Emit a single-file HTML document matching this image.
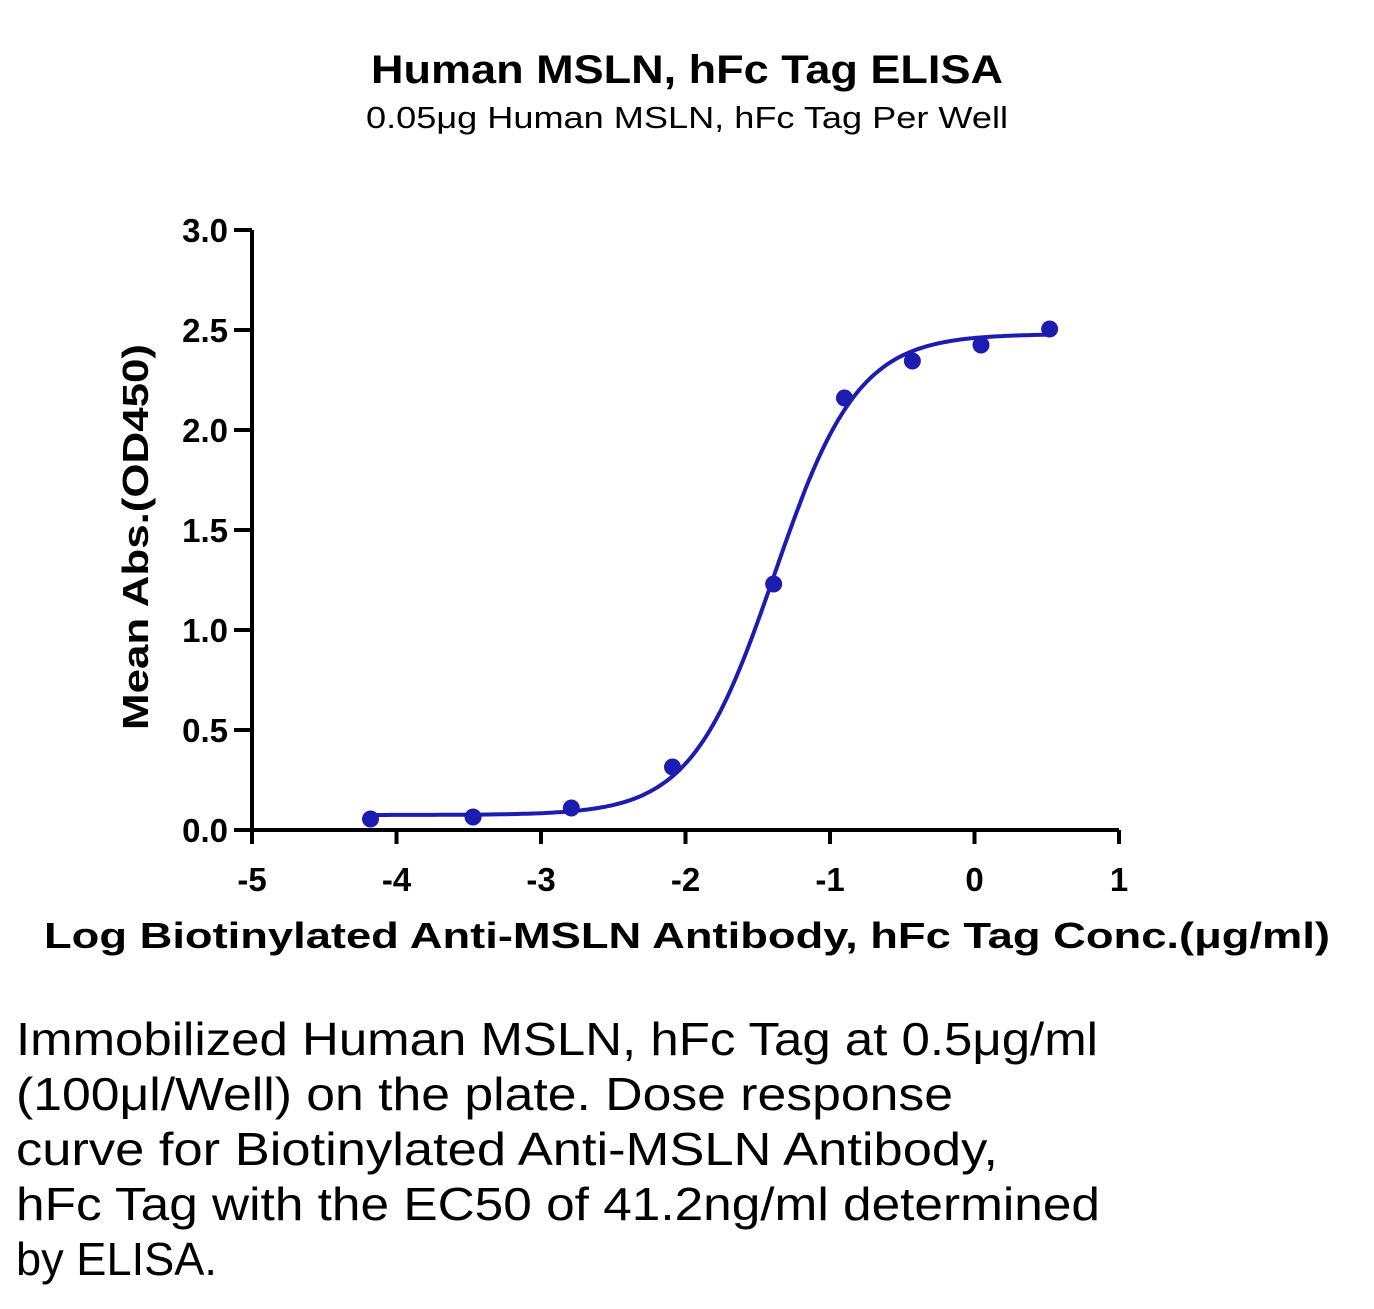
<!DOCTYPE html>
<html><head><meta charset="utf-8"><style>
body{margin:0;background:#fff}
svg text{font-family:"Liberation Sans",sans-serif}
</style></head><body>
<svg width="1374" height="1304" viewBox="0 0 1374 1304">
<text x="687" y="83" text-anchor="middle" font-size="40" font-weight="bold" textLength="632" lengthAdjust="spacingAndGlyphs">Human MSLN, hFc Tag ELISA</text>
<text x="687" y="128" text-anchor="middle" font-size="31" textLength="642" lengthAdjust="spacingAndGlyphs">0.05μg Human MSLN, hFc Tag Per Well</text>
<g id="plot"></g>
<text x="687" y="948" text-anchor="middle" font-size="36" font-weight="bold" textLength="1286" lengthAdjust="spacingAndGlyphs">Log Biotinylated Anti-MSLN Antibody, hFc Tag Conc.(μg/ml)</text>
<text transform="translate(148,537) rotate(-90)" text-anchor="middle" font-size="36" font-weight="bold" textLength="386" lengthAdjust="spacingAndGlyphs">Mean Abs.(OD450)</text>
<g font-size="46">
<text x="16" y="1055" textLength="1082" lengthAdjust="spacingAndGlyphs">Immobilized Human MSLN, hFc Tag at 0.5μg/ml</text>
<text x="16" y="1110" textLength="937" lengthAdjust="spacingAndGlyphs">(100μl/Well) on the plate. Dose response</text>
<text x="16" y="1165" textLength="982" lengthAdjust="spacingAndGlyphs">curve for Biotinylated Anti-MSLN Antibody,</text>
<text x="16" y="1220" textLength="1084" lengthAdjust="spacingAndGlyphs">hFc Tag with the EC50 of 41.2ng/ml determined</text>
<text x="16" y="1275" textLength="201" lengthAdjust="spacingAndGlyphs">by ELISA.</text>
</g>
</svg>
<script>
const xTicks=[-5,-4,-3,-2,-1,0,1];
const yTicks=[0,0.5,1,1.5,2,2.5,3];
const yTickLabels=["0.0","0.5","1.0","1.5","2.0","2.5","3.0"];
const logConc=[-4.18,-3.47,-2.79,-2.09,-1.39,-0.90,-0.43,0.045,0.52];
const meanAbs=[0.055,0.065,0.11,0.315,1.23,2.16,2.345,2.425,2.505];
const fitBottom=0.075, fitTop=2.48, fitLogEC50=-1.385, fitHill=1.5;
const NS="http://www.w3.org/2000/svg";
const X=v=>252+(v+5)*(1119-252)/6;
const Y=v=>830-v*200;
const g=document.getElementById('plot');
function mk(t,a){const e=document.createElementNS(NS,t);for(const k in a)e.setAttribute(k,a[k]);g.appendChild(e);return e;}
let e=mk('line',{x1:X(-5),y1:Y(0),x2:X(1),y2:Y(0),stroke:'#000','stroke-width':4});


e=mk('line',{x1:X(-5),y1:Y(0)+2,x2:X(-5),y2:Y(3),stroke:'#000','stroke-width':4});


xTicks.forEach(t=>{
 let l=mk('line',{x1:X(t),y1:Y(0),x2:X(t),y2:Y(0)+14,stroke:'#000','stroke-width':4});
 
 
 let tx=mk('text',{x:X(t),y:Y(0)+61,'text-anchor':'middle','font-size':33,'font-weight':'bold'});
 tx.textContent=String(t);
 
 
});
yTicks.forEach((t,i)=>{
 let l=mk('line',{x1:X(-5)-18,y1:Y(t),x2:X(-5),y2:Y(t),stroke:'#000','stroke-width':4});
 
 
 let tx=mk('text',{x:X(-5)-24,y:Y(t)+12,'text-anchor':'end','font-size':33,'font-weight':'bold'});
 tx.textContent=yTickLabels[i];
 
 
});
const f=x=>fitBottom+(fitTop-fitBottom)/(1+Math.pow(10,(fitLogEC50-x)*fitHill));
let d='';const x0=logConc[0],x1=logConc[logConc.length-1];
for(let i=0;i<=200;i++){const x=x0+(x1-x0)*i/200;d+=(i?'L':'M')+X(x).toFixed(1)+','+Y(f(x)).toFixed(1);}
e=mk('path',{d:d,fill:'none',stroke:'#1c1cb0','stroke-width':4});


logConc.forEach((x,i)=>{
 let c=mk('circle',{cx:X(x),cy:Y(meanAbs[i]),r:8.5,fill:'#1c1cb0'});
 
 
});
</script>
</body></html>
